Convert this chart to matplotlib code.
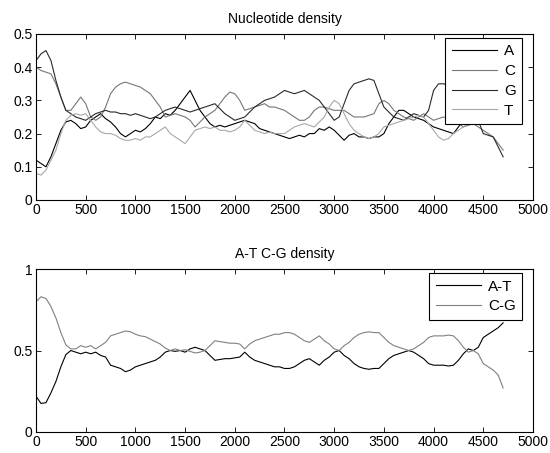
"""Nucleotide density / A-T C-G density along a sequence (two stacked panels)."""
import matplotlib
matplotlib.use("Agg")
import matplotlib.pyplot as plt
import numpy as np

# sequence position grid (values read every 50 bases)
POS = np.arange(0, 4701, 50)

A = [0.12, 0.11, 0.10, 0.13, 0.17, 0.21, 0.235, 0.24, 0.23, 0.215,
     0.22, 0.24, 0.25, 0.26, 0.245, 0.235, 0.22, 0.20, 0.19, 0.20,
     0.21, 0.205, 0.215, 0.23, 0.25, 0.245, 0.26, 0.255, 0.27, 0.29,
     0.31, 0.33, 0.30, 0.27, 0.25, 0.23, 0.22, 0.225, 0.22, 0.225,
     0.23, 0.235, 0.24, 0.235, 0.23, 0.215, 0.21, 0.205, 0.20, 0.195,
     0.19, 0.185, 0.19, 0.195, 0.19, 0.20, 0.20, 0.215, 0.21, 0.22,
     0.21, 0.195, 0.18, 0.195, 0.20, 0.19, 0.19, 0.185, 0.19, 0.19,
     0.20, 0.23, 0.25, 0.27, 0.27, 0.26, 0.25, 0.245, 0.24, 0.23,
     0.22, 0.215, 0.21, 0.205, 0.20, 0.22, 0.24, 0.25, 0.26, 0.27,
     0.29, 0.30, 0.31, 0.32, 0.33]
C = [0.40, 0.39, 0.385, 0.38, 0.35, 0.31, 0.27, 0.27, 0.29, 0.31,
     0.29, 0.25, 0.24, 0.25, 0.28, 0.32, 0.34, 0.35, 0.355, 0.35,
     0.345, 0.34, 0.33, 0.32, 0.30, 0.28, 0.25, 0.255, 0.26, 0.255,
     0.25, 0.24, 0.22, 0.235, 0.25, 0.26, 0.27, 0.29, 0.31, 0.325,
     0.32, 0.30, 0.27, 0.275, 0.28, 0.285, 0.29, 0.28, 0.28, 0.275,
     0.27, 0.26, 0.25, 0.24, 0.24, 0.25, 0.27, 0.28, 0.28, 0.275,
     0.27, 0.27, 0.27, 0.26, 0.25, 0.25, 0.25, 0.255, 0.26, 0.29,
     0.30, 0.29, 0.27, 0.26, 0.25, 0.245, 0.24, 0.25, 0.26, 0.25,
     0.24, 0.245, 0.25, 0.245, 0.24, 0.23, 0.22, 0.225, 0.23, 0.22,
     0.21, 0.20, 0.19, 0.17, 0.15]
G = [0.42, 0.44, 0.45, 0.42, 0.36, 0.31, 0.27, 0.26, 0.25, 0.245,
     0.24, 0.25, 0.26, 0.265, 0.27, 0.265, 0.265, 0.26, 0.26, 0.255,
     0.26, 0.255, 0.25, 0.245, 0.25, 0.26, 0.27, 0.275, 0.28, 0.275,
     0.27, 0.265, 0.27, 0.275, 0.28, 0.285, 0.29, 0.275, 0.26, 0.25,
     0.24, 0.245, 0.25, 0.265, 0.28, 0.29, 0.30, 0.305, 0.31, 0.32,
     0.33, 0.325, 0.32, 0.325, 0.33, 0.32, 0.31, 0.30, 0.28, 0.26,
     0.24, 0.25, 0.29, 0.33, 0.35, 0.355, 0.36, 0.365, 0.36, 0.32,
     0.28, 0.265, 0.25, 0.245, 0.24, 0.25, 0.26, 0.255, 0.25, 0.27,
     0.33, 0.35, 0.35, 0.345, 0.34, 0.33, 0.32, 0.30, 0.27, 0.24,
     0.20, 0.195, 0.19, 0.16, 0.13]
T = [0.08, 0.075, 0.09, 0.12, 0.15, 0.20, 0.24, 0.255, 0.26, 0.255,
     0.26, 0.24, 0.22, 0.205, 0.20, 0.20, 0.195, 0.185, 0.18, 0.18,
     0.185, 0.18, 0.19, 0.19, 0.20, 0.21, 0.22, 0.20, 0.19, 0.18,
     0.17, 0.19, 0.21, 0.215, 0.22, 0.215, 0.22, 0.21, 0.21, 0.205,
     0.21, 0.22, 0.24, 0.225, 0.21, 0.205, 0.20, 0.205, 0.20, 0.20,
     0.20, 0.21, 0.22, 0.225, 0.23, 0.225, 0.22, 0.235, 0.25, 0.28,
     0.30, 0.29, 0.26, 0.23, 0.21, 0.20, 0.19, 0.185, 0.19, 0.20,
     0.22, 0.225, 0.23, 0.235, 0.24, 0.245, 0.25, 0.255, 0.25, 0.23,
     0.21, 0.19, 0.18, 0.185, 0.20, 0.21, 0.22, 0.23, 0.24, 0.25,
     0.29, 0.30, 0.31, 0.325, 0.33]

AT = [0.22, 0.175, 0.18, 0.24, 0.31, 0.40, 0.475, 0.50, 0.49, 0.48,
      0.49, 0.48, 0.49, 0.47, 0.46, 0.41, 0.40, 0.39, 0.37, 0.38,
      0.40, 0.41, 0.42, 0.43, 0.44, 0.46, 0.49, 0.50, 0.495, 0.50,
      0.49, 0.51, 0.52, 0.51, 0.50, 0.47, 0.44, 0.445, 0.45, 0.45,
      0.455, 0.46, 0.49, 0.46, 0.44, 0.43, 0.42, 0.41, 0.40, 0.40,
      0.39, 0.39, 0.40, 0.42, 0.44, 0.45, 0.43, 0.41, 0.44, 0.46,
      0.49, 0.50, 0.47, 0.45, 0.42, 0.40, 0.39, 0.385, 0.39, 0.39,
      0.42, 0.45, 0.47, 0.48, 0.49, 0.50, 0.49, 0.47, 0.45, 0.42,
      0.41, 0.41, 0.41, 0.405, 0.41, 0.44, 0.48, 0.51, 0.50, 0.52,
      0.58, 0.60, 0.62, 0.64, 0.67]
CG = [0.80, 0.83, 0.82, 0.77, 0.70, 0.61, 0.535, 0.51, 0.51, 0.53,
      0.52, 0.53, 0.51, 0.53, 0.55, 0.59, 0.60, 0.61, 0.62, 0.615,
      0.60, 0.59, 0.585, 0.57, 0.555, 0.54, 0.515, 0.50, 0.51, 0.50,
      0.505, 0.495, 0.485, 0.49, 0.50, 0.53, 0.56, 0.555, 0.55, 0.545,
      0.545, 0.54, 0.51, 0.54, 0.56, 0.57, 0.58, 0.59, 0.60, 0.60,
      0.61, 0.61, 0.60, 0.58, 0.56, 0.55, 0.57, 0.59, 0.56, 0.54,
      0.51, 0.50, 0.53, 0.55, 0.58, 0.60, 0.61, 0.615, 0.61, 0.61,
      0.58, 0.55, 0.53, 0.52, 0.51, 0.50, 0.51, 0.53, 0.55, 0.58,
      0.59, 0.59, 0.59, 0.595, 0.59, 0.56, 0.52, 0.49, 0.50, 0.48,
      0.42, 0.40, 0.38, 0.35, 0.27]

NUC_COLORS = {"A": "#000000", "C": "#777777", "G": "#2a2a2a", "T": "#a8a8a8"}
PAIR_COLORS = {"A-T": "#000000", "C-G": "#808080"}
XTICKS = np.arange(0, 5001, 500)

plt.rcParams["font.family"] = ["Liberation Sans", "DejaVu Sans"]
plt.rcParams["font.size"] = 10

LEG_KW = dict(fancybox=False, edgecolor="black", framealpha=1, fontsize=11,
              handlelength=2.95, handletextpad=0.45, labelspacing=0.38,
              borderpad=0.42, borderaxespad=0)


def style(ax, yticks, ylabels):
    ax.set_xlim(0, 5000)
    ax.set_xticks(XTICKS)
    ax.set_yticks(yticks)
    ax.set_yticklabels(ylabels)
    ax.set_ylim(yticks[0], yticks[-1])
    ax.tick_params(direction="in", top=True, right=True, length=3.5, width=0.6, pad=2.5)
    for s in ax.spines.values():
        s.set_linewidth(0.8)


fig = plt.figure(figsize=(5.5, 4.53), dpi=100)
ax1 = fig.add_axes([0.0655, 0.5585, 0.9035, 0.3665])
ax2 = fig.add_axes([0.0655, 0.0464, 0.9035, 0.3596])

for name, vals in [("A", A), ("C", C), ("G", G), ("T", T)]:
    ax1.plot(POS, vals, color=NUC_COLORS[name], lw=0.8, label=name)
style(ax1, [0, 0.1, 0.2, 0.3, 0.4, 0.5], ["0", "0.1", "0.2", "0.3", "0.4", "0.5"])
ax1.set_title("Nucleotide density", fontsize=10, pad=8)
ax1.legend(loc="upper right", bbox_to_anchor=(0.978, 0.976), **LEG_KW).get_frame().set_linewidth(0.8)

for name, vals in [("A-T", AT), ("C-G", CG)]:
    ax2.plot(POS, vals, color=PAIR_COLORS[name], lw=0.8, label=name)
style(ax2, [0, 0.5, 1], ["0", "0.5", "1"])
ax2.set_title("A-T C-G density", fontsize=10, pad=8)
ax2.legend(loc="upper right", bbox_to_anchor=(0.978, 0.975), **LEG_KW).get_frame().set_linewidth(0.8)

fig.savefig("out.png", dpi=100)
